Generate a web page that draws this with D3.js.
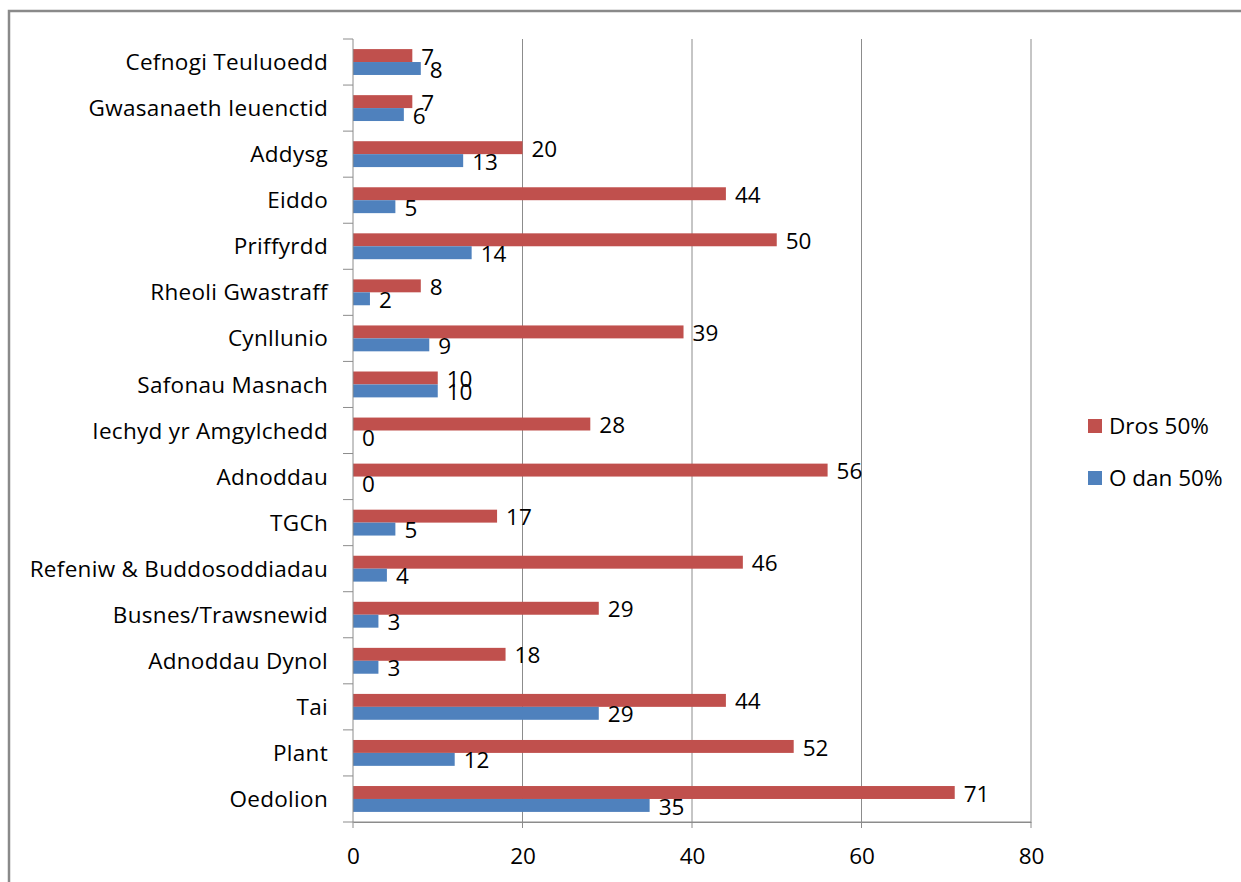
<!DOCTYPE html>
<html><head><meta charset="utf-8">
<script src="https://cdn.jsdelivr.net/npm/d3@7"></script>
<style>
body{margin:0;background:#fff;}
svg{display:block;font-family:"Open Sans", Lato, sans-serif;}
</style></head>
<body>
<svg id="c" width="1241" height="882"></svg>
<script>
const categories = ["Cefnogi Teuluoedd","Gwasanaeth Ieuenctid","Addysg","Eiddo","Priffyrdd","Rheoli Gwastraff","Cynllunio","Safonau Masnach","Iechyd yr Amgylchedd","Adnoddau","TGCh","Refeniw & Buddosoddiadau","Busnes/Trawsnewid","Adnoddau Dynol","Tai","Plant","Oedolion"];
const dros50 = [7,7,20,44,50,8,39,10,28,56,17,46,29,18,44,52,71];
const odan50 = [8,6,13,5,14,2,9,10,0,0,5,4,3,3,29,12,35];
const seriesNames = ["Dros 50%","O dan 50%"];
const xTicks = [0,20,40,60,80];

(function(){
const colors = ["#C0504D","#4F81BD"];
const svg = d3.select("#c");
const pLeft = 353, pRight = 1031, pTop = 39, pBottom = 822;
const fs = 22.5;
const ff = "'Open Sans', Lato, sans-serif";

// outer border
svg.append("path").attr("d","M9,882 L9,11 L1241,11").attr("fill","none").attr("stroke","#8a8a8a").attr("stroke-width",2.5);

const x = d3.scaleLinear().domain([0,80]).range([pLeft,pRight]);
const y = d3.scaleBand().domain(categories).range([pTop,pBottom]);
const inner = d3.scaleBand().domain(seriesNames).range([0,y.bandwidth()]).paddingInner(0).paddingOuter(0.78);

// gridlines
svg.append("g").selectAll("line").data(xTicks.slice(1)).join("line")
  .attr("x1",d=>x(d)).attr("x2",d=>x(d)).attr("y1",pTop).attr("y2",pBottom+6)
  .attr("stroke","#8c8c8c").attr("stroke-width",1);

// bars
const data = categories.map((c,i)=>({c, vals:[{s:seriesNames[0],v:dros50[i]},{s:seriesNames[1],v:odan50[i]}]}));
const g = svg.append("g");
data.forEach(d=>{
  d.vals.forEach((e,j)=>{
    const yy = y(d.c)+inner(e.s);
    g.append("rect").attr("x",x(0)).attr("y",yy).attr("width",x(e.v)-x(0)).attr("height",inner.bandwidth()).attr("fill",colors[j]);
  });
});
data.forEach(d=>{
  d.vals.forEach((e,j)=>{
    const yy = y(d.c)+inner(e.s)+inner.bandwidth()/2 + 1;
    g.append("text").attr("x",x(e.v)+9).attr("y",yy).attr("dy","0.36em")
      .attr("font-size",fs).attr("font-family",ff).attr("fill","#000").text(e.v);
  });
});

// y axis
const ya = svg.append("g").attr("transform",`translate(${pLeft},0)`)
  .call(d3.axisLeft(y).tickSize(0).tickPadding(25));
ya.select(".domain").remove();
ya.selectAll("text").attr("font-size",fs).attr("font-family",ff).attr("fill","#000").attr("dy","0.36em").attr("letter-spacing","0.3px");
const yTickPos = categories.map(c=>y(c)).concat([pBottom]);
svg.append("g").selectAll("line").data(yTickPos).join("line")
  .attr("x1",pLeft-10).attr("x2",pLeft).attr("y1",d=>d).attr("y2",d=>d).attr("stroke","#8c8c8c");
svg.append("line").attr("x1",pLeft).attr("x2",pLeft).attr("y1",pTop).attr("y2",pBottom+6).attr("stroke","#8c8c8c");

// x axis
const xa = svg.append("g").attr("transform",`translate(0,${pBottom})`)
  .call(d3.axisBottom(x).tickValues(xTicks).tickSize(0).tickPadding(26));
xa.select(".domain").attr("stroke","#8c8c8c");
xa.selectAll("text").attr("font-size",fs).attr("font-family",ff).attr("fill","#000");
svg.append("line").attr("x1",pLeft).attr("x2",pRight).attr("y1",pBottom).attr("y2",pBottom).attr("stroke","#8c8c8c");

// legend
const lg = svg.append("g");
seriesNames.forEach((s,i)=>{
  const ly = 426 + i*52;
  lg.append("rect").attr("x",1088).attr("y",ly-7).attr("width",14).attr("height",14).attr("fill",colors[i]);
  lg.append("text").attr("x",1109).attr("y",ly).attr("dy","0.36em").attr("font-size",fs).attr("font-family",ff).attr("fill","#000").text(s);
});
})();
</script>
</body></html>
